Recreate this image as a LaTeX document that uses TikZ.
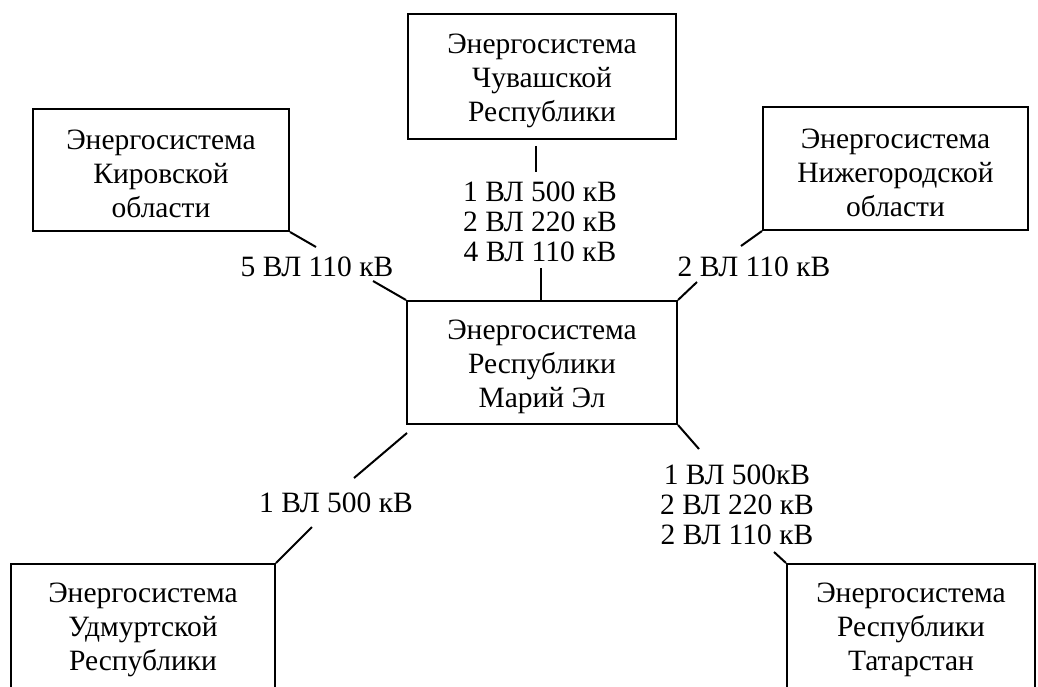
\documentclass[tikz,border=0pt]{standalone}
\usepackage{fontspec}
\setmainfont{Liberation Serif}
\newcommand{\toppad}{\rule{0pt}{28pt}}
\begin{document}
\begin{tikzpicture}[x=1pt,y=-1pt,
  sysbox/.style={draw, line width=2pt, align=center, inner sep=0pt,
    font=\fontsize{29.5}{34}\selectfont},
  linelabel/.style={align=center, inner sep=0pt, font=\fontsize{29.5}{30}\selectfont},
  conn/.style={line width=2pt}]
\useasboundingbox (0,0) rectangle (1038,687);
% systems
\node[sysbox, minimum width=256pt, minimum height=122pt] (kirov) at (161,170) {\toppad Энергосистема\\Кировской\\области};
\node[sysbox, minimum width=268pt, minimum height=125pt] (chuv) at (542,76.5) {\toppad Энергосистема\\Чувашской\\Республики};
\node[sysbox, minimum width=265pt, minimum height=123pt] (nizh) at (895.5,168.5) {\toppad Энергосистема\\Нижегородской\\области};
\node[sysbox, minimum width=270pt, minimum height=123pt] (mari) at (542,362.5) {\toppad Энергосистема\\Республики\\Марий Эл};
\node[sysbox, minimum width=264pt, minimum height=132pt] (udm) at (143,630) {Энергосистема\\Удмуртской\\Республики};
\node[sysbox, minimum width=248pt, minimum height=132pt] (tat) at (911,630) {Энергосистема\\Республики\\Татарстан};
% labels
\node[linelabel] (kl) at (317,267) {5 ВЛ 110 кВ};
\node[linelabel] (cl) at (540,222) {1 ВЛ 500 кВ\\2 ВЛ 220 кВ\\4 ВЛ 110 кВ};
\node[linelabel] (nl) at (754,267) {2 ВЛ 110 кВ};
\node[linelabel] (ul) at (336,503) {1 ВЛ 500 кВ};
\node[linelabel] (tl) at (737,505) {1 ВЛ 500кВ\\2 ВЛ 220 кВ\\2 ВЛ 110 кВ};
% connector ends
\coordinate (k1) at (316,247);
\coordinate (k2) at (373,281);
\coordinate (c0) at (536,146);
\coordinate (c1) at (536,172);
\coordinate (c2) at (541,268);
\coordinate (c3) at (541,301);
\coordinate (n1) at (741,246);
\coordinate (n2) at (697,282);
\coordinate (u0) at (407,433);
\coordinate (u1) at (354,478);
\coordinate (u2) at (312,527);
\coordinate (t1) at (699,449);
\coordinate (t2) at (774,552);
% connectors
\draw[conn] (kirov.south east) -- (k1);
\draw[conn] (k2) -- (mari.north west);
\draw[conn] (c0) -- (c1);
\draw[conn] (c2) -- (c3);
\draw[conn] (nizh.south west) -- (n1);
\draw[conn] (n2) -- (mari.north east);
\draw[conn] (u0) -- (u1);
\draw[conn] (u2) -- (udm.north east);
\draw[conn] (mari.south east) -- (t1);
\draw[conn] (t2) -- (tat.north west);
\end{tikzpicture}
\end{document}
